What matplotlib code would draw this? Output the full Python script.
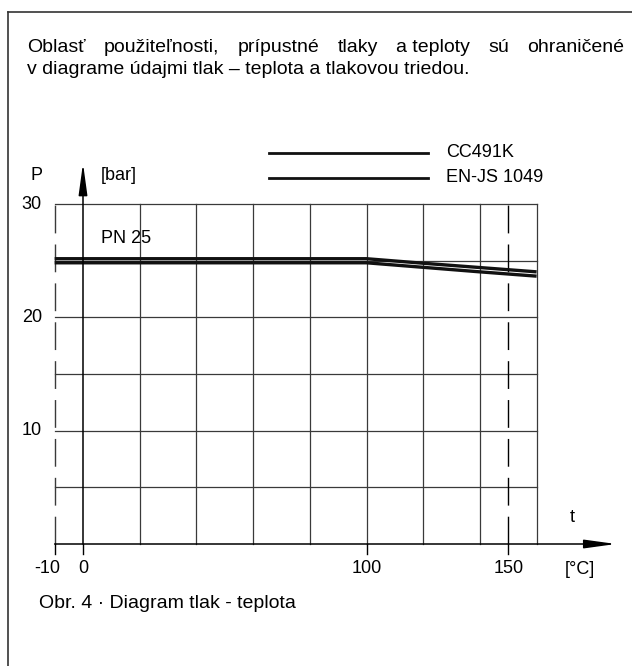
import matplotlib.pyplot as plt

W, H = 632, 666

# chart values
temp_curve = [-10, 100, 120, 140, 160]
p_cc491k = [25.18, 25.18, 24.78, 24.4, 24.02]
p_enjs1049 = [24.82, 24.82, 24.42, 24.02, 23.64]
series_names = ["CC491K", "EN-JS 1049"]
grid_x = [0, 20, 40, 60, 80, 100, 120, 140, 160]
grid_y = [5, 10, 15, 20, 25, 30]
x_ticks = [-10, 0, 100, 150]
y_ticks = [10, 20, 30]
t_min, t_max, p_max = -10, 160, 30

intro_line1 = ["Oblasť", "použiteľnosti,", "prípustné", "tlaky", "a teploty", "sú", "ohraničené"]
intro_line2 = "v diagrame údajmi tlak – teplota a tlakovou triedou."
caption = "Obr. 4 · Diagram tlak - teplota"

plt.rcParams['font.family'] = ['Liberation Sans', 'DejaVu Sans']
FS = 13
FS_BODY = 14

fig = plt.figure(figsize=(W / 100, H / 100), dpi=100)
ax = fig.add_axes([0, 0, 1, 1])
# pixel mapping: x px = 83 + 2.835*t ; y px = 544 - 11.33*p
ax.set_xlim(-83 / 2.835, (W - 83) / 2.835)
ax.set_ylim(-(H - 544) / 11.33, 544 / 11.33)
ax.axis('off')


def ftxt(x, y, s, **kw):
    return fig.text(x / W, 1 - y / H, s, fontsize=kw.pop('fontsize', FS),
                    va=kw.pop('va', 'center'), **kw)


# frame around the figure box
fig.add_artist(plt.Line2D([8 / W, 8 / W], [0, 1 - 12 / H], color='#333333', lw=1.2))
fig.add_artist(plt.Line2D([8 / W, 1], [1 - 12 / H, 1 - 12 / H], color='#333333', lw=1.2))

# intro text, first line justified between 27 and 624 px
renderer = fig.canvas.get_renderer()
objs = [ftxt(0, 47, w, fontsize=FS_BODY) for w in intro_line1]
widths = [o.get_window_extent(renderer).width for o in objs]
gap = (624 - 27 - sum(widths)) / (len(objs) - 1)
x = 27
for o, wd in zip(objs, widths):
    o.set_x(x / W)
    x += wd + gap
ftxt(27, 69, intro_line2, fontsize=FS_BODY)

# grid
gc = '#3a3a3a'
for gx in grid_x[1:]:
    ax.plot([gx, gx], [0, p_max], color=gc, lw=0.9)
for gy in grid_y:
    ax.plot([t_min, t_max], [gy, gy], color=gc, lw=0.9)
ax.plot([t_min, t_min], [0, p_max], color=gc, lw=1.0, dashes=(20, 8))
ax.plot([150, 150], [0, p_max], color='black', lw=1.0, dashes=(20, 8))

# axes with arrows
arrow = dict(arrowstyle='-|>,head_length=1.6,head_width=0.22',
             mutation_scale=12, color='black', lw=1.1, shrinkA=0, shrinkB=0)
ax.annotate('', xy=(188, 0), xytext=(t_min, 0), arrowprops=arrow)
ax.annotate('', xy=(0, 33.6), xytext=(0, 0), arrowprops=arrow)

# ticks and labels
for t in x_ticks:
    ax.plot([t, t], [0, -0.9], color='black', lw=1.0)
    ax.text(t - (2.5 if t < 0 else 0), -2.2, str(t), ha='center', va='center', fontsize=FS)
for p in y_ticks:
    ax.text(-14.5, p, str(p), ha='right', va='center', fontsize=FS)

ftxt(37, 176, "P", ha='center')
ftxt(119, 176, "[bar]", ha='center')
ftxt(572, 517, "t", ha='center')
ftxt(580, 569, "[°C]", ha='center')
ax.text(6.2, 27.0, "PN 25", ha='left', va='center', fontsize=FS)

# curves
ax.plot(temp_curve, p_cc491k, color='#111111', lw=2.4, solid_capstyle='butt')
ax.plot(temp_curve, p_enjs1049, color='#111111', lw=2.4, solid_capstyle='butt')

# legend lines
for i, name in enumerate(series_names):
    y = 153.3 + 24.4 * i
    fig.add_artist(plt.Line2D([269 / W, 428 / W], [1 - y / H, 1 - y / H], color='#111111', lw=2.0))
    ftxt(446, y - 0.5, name)

ftxt(39, 603, caption, fontsize=FS_BODY)

fig.savefig("out.png", dpi=100)
